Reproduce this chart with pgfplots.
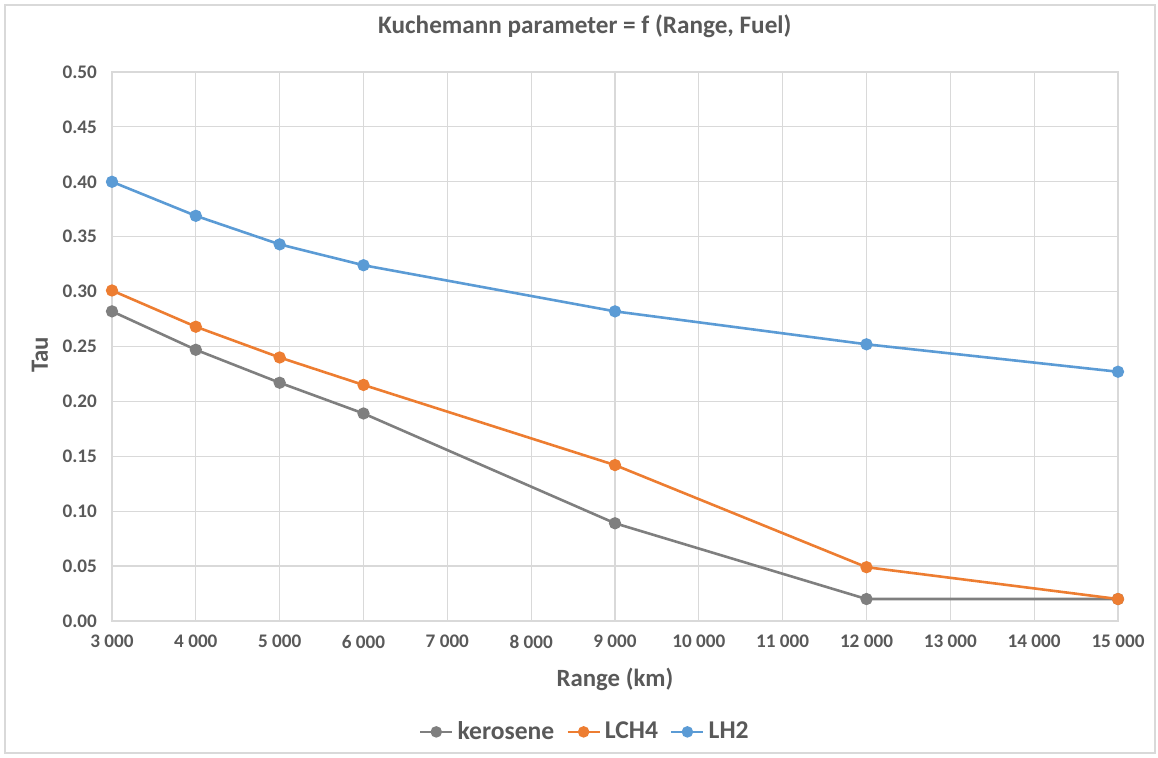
\documentclass[border=0pt]{standalone}
\usepackage{pgfplots}
\pgfplotsset{compat=1.18}
\usepackage{fontspec}
\setmainfont{Carlito}
\definecolor{txt}{HTML}{595959}
\definecolor{gridc}{HTML}{D9D9D9}
\definecolor{kero}{HTML}{7F7F7F}
\definecolor{lch}{HTML}{ED7D31}
\definecolor{lh}{HTML}{5B9BD5}
\begin{document}
\begin{tikzpicture}
\begin{axis}[
    scale only axis,
    width=503pt, height=274.5pt,
    xmin=3000, xmax=15000, ymin=0, ymax=0.5,
    xtick={3000,4000,5000,6000,7000,8000,9000,10000,11000,12000,13000,14000,15000},
    ytick={0,0.05,0.1,0.15,0.2,0.25,0.3,0.35,0.4,0.45,0.5},
    grid=major,
    major grid style={gridc, line width=0.6pt},
    axis line style={gridc, line width=0.6pt},
    major tick length=0pt,
    scaled x ticks=false,
    scaled y ticks=false,
    /pgf/number format/assume math mode=true,
    x tick label style={/pgf/number format/1000 sep={\ }, yshift=-3.5pt},
    y tick label style={/pgf/number format/.cd, fixed, fixed zerofill, precision=2, /tikz/.cd, xshift=-4pt},
    ticklabel style={font=\fontsize{9.6}{11}\selectfont\bfseries, text=txt},
    title={Kuchemann parameter = f (Range, Fuel)},
    title style={font=\fontsize{12.6}{14}\selectfont\bfseries, text=txt, at={(axis description cs:0.47,1.062)}, anchor=center},
    xlabel={Range (km)},
    ylabel={Tau},
    label style={font=\fontsize{12.4}{14}\selectfont\bfseries, text=txt},
    xlabel style={at={(axis description cs:0.5,-0.107)}, anchor=center},
    ylabel style={at={(axis description cs:-0.0716,0.485)}, anchor=center},
    legend columns=3,
    legend style={draw=none, fill=none, at={(0.471,-0.202)}, anchor=center,
        font=\fontsize{12.8}{14}\selectfont\bfseries, text=txt,
        /tikz/every odd column/.append style={column sep=0pt},
        /tikz/every even column/.append style={column sep=4pt}},
    legend image code/.code={
        \draw[#1, mark=none] (0pt,0pt) -- (16pt,0pt);
        \fill[#1] (8pt,0pt) circle (2.2pt);},
    every axis plot/.append style={line width=1.3pt, mark=*, mark size=2.4pt, mark options={solid}},
]
\addplot[kero] coordinates {(3000,0.282) (4000,0.247) (5000,0.217) (6000,0.189) (9000,0.089) (12000,0.020) (15000,0.020)};
\addplot[lch] coordinates {(3000,0.301) (4000,0.268) (5000,0.240) (6000,0.215) (9000,0.142) (12000,0.049) (15000,0.020)};
\addplot[lh] coordinates {(3000,0.400) (4000,0.369) (5000,0.343) (6000,0.324) (9000,0.282) (12000,0.252) (15000,0.227)};
\legend{kerosene, LCH4, LH2}
\end{axis}
\draw[gridc, line width=0.6pt] (-53.5pt,-66pt) rectangle (521.5pt,308pt);
\path[use as bounding box] (-56pt,-68.5pt) rectangle (523pt,310.5pt);
\end{tikzpicture}
\end{document}
